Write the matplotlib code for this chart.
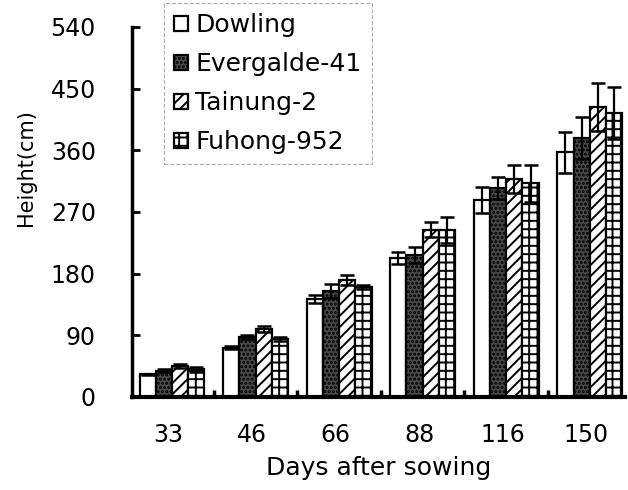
import numpy as np
import matplotlib
matplotlib.use("Agg")
import matplotlib.pyplot as plt

# data (height in cm, +/- error)
days = ["33", "46", "66", "88", "116", "150"]
cultivars = ["Dowling", "Evergalde-41", "Tainung-2", "Fuhong-952"]

dowling = [33, 72, 143, 203, 288, 357]
evergalde = [38, 87, 155, 207, 305, 378]
tainung = [45, 99, 171, 244, 318, 423]
fuhong = [40, 85, 161, 244, 312, 415]

dowling_err = [1, 2, 6, 9, 19, 30]
evergalde_err = [2, 3, 10, 12, 16, 31]
tainung_err = [3, 4, 7, 11, 21, 35]
fuhong_err = [3, 3, 3, 19, 27, 38]

heights = [dowling, evergalde, tainung, fuhong]
errors = [dowling_err, evergalde_err, tainung_err, fuhong_err]

# looks for each cultivar
faces = ["white", "#484848", "white", "white"]
hatches = ["", "....", "///", "++"]

plt.rcParams['font.family'] = ['DejaVu Sans']
plt.rcParams['hatch.linewidth'] = 1.4

fig = plt.figure(figsize=(6.28, 4.90), dpi=100)
ax = fig.add_axes([0.210, 0.190, 0.785, 0.755])

x = np.arange(len(days))
w = 0.194
for i in range(4):
    pos = x + (i - 1.5) * w
    ax.bar(pos, heights[i], w, color=faces[i], edgecolor="black",
           linewidth=1.6, hatch=hatches[i], label=cultivars[i],
           yerr=errors[i], capsize=5,
           error_kw=dict(ecolor="black", elinewidth=1.6, capthick=1.8))

ax.set_xlim(-0.48, 5.42)
ax.set_ylim(0, 540)
ax.set_yticks(np.arange(0, 541, 90))
ax.set_xticks(x - 0.04)
ax.set_xticklabels(days)
ax.set_xticks(x[:-1] + 0.5, minor=True)

ax.tick_params(axis="x", which="major", length=0, pad=19, labelsize=17)
ax.tick_params(axis="x", which="minor", direction="in", length=5, width=2.5)
ax.tick_params(axis="y", direction="in", length=6, width=2, pad=26, labelsize=17)

for s in ["top", "right"]:
    ax.spines[s].set_visible(False)
ax.spines["left"].set_linewidth(2.5)
ax.spines["bottom"].set_linewidth(3)

ax.set_xlabel("Days after sowing", fontsize=18, labelpad=6)
ax.set_ylabel("Height(cm)", fontsize=15)
ax.yaxis.set_label_coords(-0.195, 0.62)

leg = ax.legend(loc="upper left", bbox_to_anchor=(164 / 628, 1 - 3 / 490),
                bbox_transform=fig.transFigure, fontsize=18, borderaxespad=0,
                handlelength=0.55, handleheight=0.55, handletextpad=0.3,
                labelspacing=0.6, borderpad=0.4, fancybox=False)
leg.get_frame().set_linestyle("--")
leg.get_frame().set_edgecolor("#999999")
leg.get_frame().set_linewidth(0.8)

fig.savefig("out.png", dpi=100)
